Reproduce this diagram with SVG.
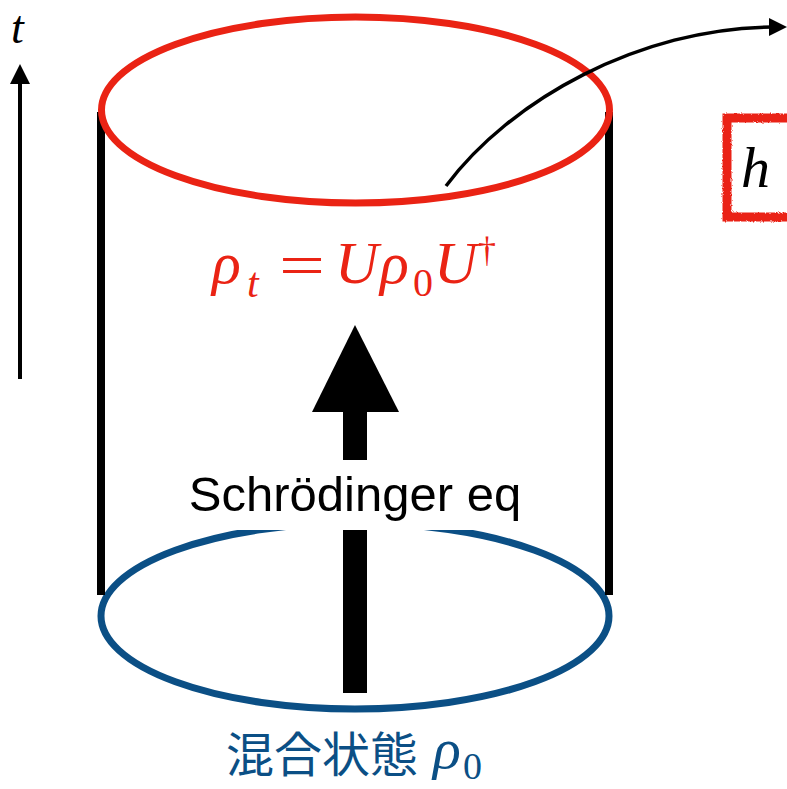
<svg xmlns="http://www.w3.org/2000/svg" width="787" height="789" viewBox="0 0 787 789">
<style>
.serif{font-family:"Liberation Serif","Times New Roman",serif;font-style:italic}
.up{font-family:"Liberation Serif","Times New Roman",serif;font-style:normal}
.red{fill:#EA2314}
.blue{fill:#0B4F85}
.wall{stroke:#000;stroke-width:8;fill:none}
</style>
<defs>
<filter id="rough" x="-10%" y="-10%" width="120%" height="120%">
<feTurbulence type="fractalNoise" baseFrequency="0.6" numOctaves="2" seed="3"/>
<feDisplacementMap in="SourceGraphic" scale="3"/>
</filter>
</defs>
<rect width="787" height="789" fill="#fff"/>

<g id="bottom-state">
<ellipse cx="355" cy="616" rx="254" ry="93" fill="none" stroke="#0B4F85" stroke-width="7"/>
</g>

<g id="walls">
<line class="wall" x1="101" y1="112" x2="101" y2="595"/>
<line class="wall" x1="609" y1="112" x2="609" y2="595"/>
</g>

<g id="top-state">
<ellipse cx="355.5" cy="110" rx="254" ry="93" fill="none" stroke="#EA2314" stroke-width="7"/>
</g>

<g id="connectors">
<g id="evolution-arrow">
<rect x="343" y="410" width="24" height="283" fill="#000"/>
<polygon points="355,325 312,412 399,412" fill="#000"/>
</g>
<g id="time-axis">
<line x1="20" y1="379" x2="20" y2="80" stroke="#000" stroke-width="4"/>
<polygon points="20,64 10,84 30,84" fill="#000"/>
</g>
<g id="map-arrow">
<path d="M446,186 C510,100 640,28 772,27" fill="none" stroke="#000" stroke-width="3.5"/>
<polygon points="787,27 769,18 769,36" fill="#000"/>
</g>
</g>

<g id="schrodinger-label">
<rect x="230" y="460" width="250" height="70" fill="#fff"/>
<text x="355" y="511" text-anchor="middle" font-family="'Liberation Sans',Arial,sans-serif" font-size="49" fill="#000">Schrödinger eq</text>
</g>

<g id="formula-label" class="red">
<text class="serif" x="212" y="283" font-size="60">ρ</text>
<text class="serif" x="247" y="297" font-size="42">t</text>
<text class="up" x="279" y="285" font-size="60" textLength="46" lengthAdjust="spacingAndGlyphs">=</text>
<text class="serif" x="335" y="283" font-size="60">U</text>
<text class="serif" x="380" y="283" font-size="60">ρ</text>
<text class="up" x="413" y="296" font-size="40">0</text>
<text class="serif" x="434" y="283" font-size="60">U</text>
<text class="up" x="478" y="262" font-size="36">†</text>
</g>

<g id="mixed-state-label">
<text class="blue" x="226" y="772" font-family="'Noto Sans CJK JP','Noto Sans CJK SC',sans-serif" font-size="48">混合状態</text>
<text class="blue serif" x="433" y="768" font-size="58">ρ</text>
<text class="blue up" x="463" y="779" font-size="38">0</text>
</g>

<g id="time-label">
<text class="serif" x="11" y="43" font-size="46" fill="#000">t</text>
</g>

<g id="h-box">
<rect x="727" y="118" width="90" height="99" fill="none" stroke="#EA2314" stroke-width="9" filter="url(#rough)"/>
<text class="serif" x="741" y="187" font-size="58" fill="#000">h</text>
</g>
</svg>
